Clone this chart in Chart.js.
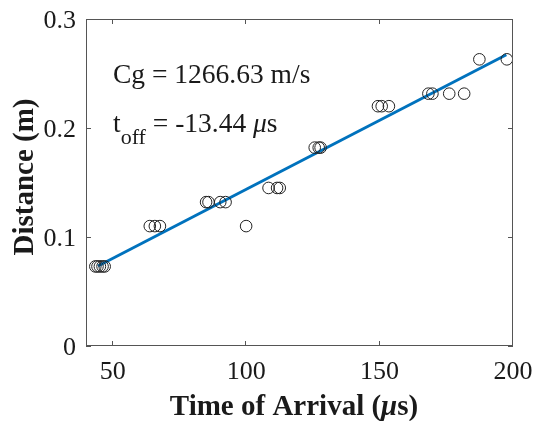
<!DOCTYPE html>
<html>
<head>
<meta charset="utf-8">
<script src="https://cdn.jsdelivr.net/npm/chart.js@4.4.1/dist/chart.umd.min.js"></script>
<style>
    html, body { margin: 0; padding: 0; background: #fff; }
    #wrap { width: 534px; height: 421px; }
</style>
</head>
<body>
<div id="wrap"><canvas id="toaChart"></canvas></div>
<script>
// Measured arrival times (us) and sensor distances (m)
const arrivalTimes = [43.5, 44.3, 45.2, 46.2, 47.0, 63.9, 65.8, 67.7, 85.0, 85.9, 90.3, 92.3, 100.0,
    108.4, 111.6, 112.6, 125.7, 127.2, 127.9, 149.4, 150.8, 153.5, 168.3, 169.8, 176.1, 181.7, 187.4, 197.7];
const distances = [0.073, 0.073, 0.073, 0.073, 0.073, 0.110, 0.110, 0.110, 0.132, 0.132, 0.132, 0.132, 0.110,
    0.145, 0.145, 0.145, 0.182, 0.182, 0.182, 0.220, 0.220, 0.220, 0.2315, 0.2315, 0.2315, 0.2315, 0.263, 0.263];

// Linear fit result: d = Cg * (t - tOff)
const groupVelocity = 1266.63;   // m/s
const timeOffset = -13.44;       // us
const fitTimes = [44.5, 197.5];

const xTicks = [50, 100, 150, 200];
const yTicks = [0, 0.1, 0.2, 0.3];

const serif = "'Liberation Serif', 'Times New Roman', serif";
const frameColor = '#555';
const textColor = '#1a1a1a';

const scatterPoints = arrivalTimes.map((t, i) => ({ x: t, y: distances[i] }));
const fitPoints = fitTimes.map(t => ({ x: t, y: groupVelocity * 1e-6 * (t - timeOffset) }));

// draw a run of [font, text] pieces left to right, returns end x
function drawRuns(ctx, runs, x, y) {
    runs.forEach(r => {
        ctx.font = r[0] + serif;
        ctx.fillText(r[1], x, y + (r[2] || 0));
        x += ctx.measureText(r[1]).width;
    });
    return x;
}

function runsWidth(ctx, runs) {
    let w = 0;
    runs.forEach(r => { ctx.font = r[0] + serif; w += ctx.measureText(r[1]).width; });
    return w;
}

// Box around the axes with inward ticks on all four sides, tick labels, titles and annotation
const matlabAxes = {
    id: 'matlabAxes',
    afterDraw(chart) {
        const { ctx, chartArea: a, scales } = chart;
        const tickLen = 5;
        ctx.save();
        ctx.strokeStyle = frameColor;
        ctx.lineWidth = 1;
        ctx.strokeRect(a.left + 0.5, a.top + 0.5, a.right - a.left - 1, a.bottom - a.top - 1);
        ctx.beginPath();
        xTicks.forEach(v => {
            const x = Math.round(scales.x.getPixelForValue(v)) - 0.5;
            ctx.moveTo(x, a.bottom); ctx.lineTo(x, a.bottom - tickLen);
            ctx.moveTo(x, a.top); ctx.lineTo(x, a.top + tickLen);
        });
        yTicks.forEach(v => {
            const y = Math.round(scales.y.getPixelForValue(v)) + 0.5;
            ctx.moveTo(a.left, y); ctx.lineTo(a.left + tickLen, y);
            ctx.moveTo(a.right, y); ctx.lineTo(a.right - tickLen, y);
        });
        ctx.stroke();

        ctx.fillStyle = textColor;
        ctx.textBaseline = 'alphabetic';

        // tick labels
        ctx.font = '26px ' + serif;
        ctx.textAlign = 'center';
        xTicks.forEach(v => ctx.fillText(String(v), scales.x.getPixelForValue(v), 379));
        ctx.textAlign = 'right';
        yTicks.forEach(v => ctx.fillText(String(v), 76, scales.y.getPixelForValue(v) + 9));

        // fit annotation
        ctx.textAlign = 'left';
        ctx.font = '27.5px ' + serif;
        ctx.fillText('Cg = ' + groupVelocity.toFixed(2) + ' m/s', 113, 83);
        drawRuns(ctx, [
            ['27.5px ', 't'],
            ['22px ', 'off', 12],
            ['27.5px ', ' = ' + timeOffset.toFixed(2) + ' '],
            ['italic 27.5px ', '\u03bc'],
            ['27.5px ', 's']
        ], 113, 132);

        // x axis title, mu in italics
        const xTitle = [
            ['bold 29px ', 'Time of Arrival ('],
            ['bold italic 29px ', '\u03bc'],
            ['bold 29px ', 's)']
        ];
        drawRuns(ctx, xTitle, 294 - runsWidth(ctx, xTitle) / 2, 415);

        // y axis title
        ctx.translate(33, 177);
        ctx.rotate(-Math.PI / 2);
        ctx.textAlign = 'center';
        ctx.font = 'bold 29px ' + serif;
        ctx.fillText('Distance (m)', 0, 0);
        ctx.restore();
    }
};

new Chart(document.getElementById('toaChart'), {
    type: 'scatter',
    data: {
        datasets: [
            {
                data: scatterPoints,
                pointStyle: 'circle',
                pointRadius: 5.8,
                pointBorderWidth: 1,
                pointBorderColor: '#222',
                pointBackgroundColor: 'rgba(0,0,0,0)',
                showLine: false
            },
            {
                data: fitPoints,
                showLine: true,
                borderColor: '#0072BD',
                borderWidth: 3,
                pointRadius: 0
            }
        ]
    },
    options: {
        responsive: true,
        maintainAspectRatio: false,
        animation: false,
        layout: { padding: { left: 0, top: 19, right: 21, bottom: 0 } },
        plugins: {
            legend: { display: false },
            tooltip: { enabled: false }
        },
        scales: {
            x: {
                type: 'linear',
                min: 40,
                max: 200,
                grid: { display: false },
                border: { display: false },
                ticks: { display: false },
                afterFit: scale => {
                    scale.height = 75;
                    scale.paddingLeft = 0;
                    scale.paddingRight = 0;
                }
            },
            y: {
                type: 'linear',
                min: 0,
                max: 0.3,
                grid: { display: false },
                border: { display: false },
                ticks: { display: false },
                afterFit: scale => {
                    scale.width = 86;
                    scale.paddingTop = 0;
                    scale.paddingBottom = 0;
                }
            }
        }
    },
    plugins: [matlabAxes]
});
</script>
</body>
</html>
